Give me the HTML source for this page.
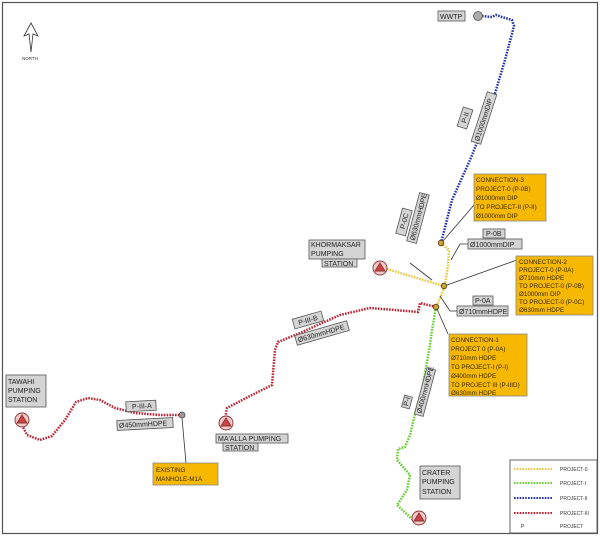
<!DOCTYPE html>
<html><head><meta charset="utf-8"><style>
html,body{margin:0;padding:0;background:#fff;}
svg{display:block;font-family:"Liberation Sans",sans-serif;}
.lb{fill:#d4d4d4;stroke:#555;stroke-width:0.8;}
.t{font-size:7px;fill:#222;}
.ob{fill:#f6b800;stroke:#888;stroke-width:0.8;}
.ot{font-size:6.3px;fill:#3a2a00;}
.ld{stroke:#333;stroke-width:0.8;fill:none;}
.nd{fill:#c9a23a;stroke:#4a3a10;stroke-width:0.8;}
</style></head><body>
<svg width="600" height="536" viewBox="0 0 600 536">
<rect x="2.5" y="2.5" width="595" height="531" fill="#fff" stroke="#555" stroke-width="1.2"/>
<!-- north arrow -->
<path d="M31 23 L24 36 L29 34 L31 52 L33 34 L38 36 Z" fill="#fff" stroke="#333" stroke-width="0.8"/>
<text x="22" y="60" font-size="4.5" fill="#333">NORTH</text>

<!-- pipelines -->
<path d="M482 16 L492 17 L496 15 L502 17 L512 20 L514 26 L505 60 L490 110 L470 160 L452 200 L441 243" fill="none" stroke="#2233aa" stroke-width="2.5" stroke-dasharray="1.6 1.2"/>
<path d="M441 243 L449 250 L448 265 L445 285 L441 296 L436 307" fill="none" stroke="#e8c840" stroke-width="2.5" stroke-dasharray="1.6 1.2"/>
<path d="M387 269 L410 276 L444 286" fill="none" stroke="#e8c840" stroke-width="2.5" stroke-dasharray="1.6 1.2"/>
<path d="M436 307 L432 330 L430 345 L422 390 L416 410 L410 435 L405 447 L398 449 L397 460 L410 475 L407 490 L397 505 L413 520" fill="none" stroke="#66cc33" stroke-width="2.5" stroke-dasharray="1.6 1.2"/>
<path d="M436 307 L420 303 L418 312 L395 310 L370 308 L340 315 L300 333 L278 342 L275 350 L272 385 L250 396 L227 408 L225 418" fill="none" stroke="#bb2233" stroke-width="2.5" stroke-dasharray="1.6 1.2"/>
<path d="M22 425 L27 435 L40 440 L52 436 L65 420 L76 402 L88 398 L100 400 L115 408 L135 413 L160 415 L182 415" fill="none" stroke="#bb2233" stroke-width="2.5" stroke-dasharray="1.6 1.2"/>

<!-- nodes -->
<circle cx="478" cy="16" r="4.5" fill="#aaa" stroke="#555" stroke-width="0.8"/>
<circle cx="441" cy="243" r="2.8" class="nd"/>
<circle cx="444" cy="286" r="2.8" class="nd"/>
<circle cx="436" cy="307" r="2.8" class="nd"/>
<circle cx="182" cy="415" r="3" fill="#999" stroke="#444" stroke-width="0.8"/>
<!-- pumping stations -->
<g stroke="#883333" stroke-width="0.9">
<circle cx="380" cy="268" r="7" fill="#f2c8c8"/><path d="M380 263 L375 271 L385 271 Z" fill="#cc4444"/>
<circle cx="22" cy="420" r="7" fill="#f2c8c8"/><path d="M22 415 L17 423 L27 423 Z" fill="#cc4444"/>
<circle cx="226" cy="423" r="7" fill="#f2c8c8"/><path d="M226 418 L221 426 L231 426 Z" fill="#cc4444"/>
<circle cx="419" cy="518" r="7" fill="#f2c8c8"/><path d="M419 513 L414 521 L424 521 Z" fill="#cc4444"/>
</g>

<!-- leaders -->
<path class="ld" d="M474 205 L443 241"/>
<path class="ld" d="M468 244 L460 244 L451 260"/>
<path class="ld" d="M517 260 L447 285"/>
<path class="ld" d="M410 263 L432 280"/>
<path class="ld" d="M457 311 L450 311 L440 296"/>
<path class="ld" d="M448 334 L437 309"/>
<path class="ld" d="M182 418 L186 463"/>

<!-- labels -->
<rect class="lb" x="438" y="11" width="27" height="10"/><text class="t" x="440" y="19">WWTP</text>
<g transform="translate(465,118) rotate(-72)"><rect class="lb" x="-10" y="-5" width="20" height="10"/><text class="t" x="-5" y="2.5">P-II</text></g>
<g transform="translate(484,118) rotate(-72)"><rect class="lb" x="-26" y="-5" width="52" height="10"/><text class="t" x="-24" y="2.5">Ø1000mmDIP</text></g>

<rect class="ob" x="474" y="174" width="72" height="47"/>
<text class="ot"><tspan x="476" y="182">CONNECTION-3</tspan><tspan x="476" y="191">PROJECT-0 (P-0B)</tspan><tspan x="476" y="200">Ø1000mm DIP</tspan><tspan x="476" y="209">TO PROJECT-II (P-II)</tspan><tspan x="476" y="218">Ø1000mm DIP</tspan></text>

<rect class="lb" x="483" y="229" width="22" height="9"/><text class="t" x="486" y="236">P-0B</text>
<rect class="lb" x="468" y="239" width="54" height="10"/><text class="t" x="470" y="247">Ø1000mmDIP</text>

<g transform="translate(404,222) rotate(-75)"><rect class="lb" x="-13" y="-5" width="26" height="10"/><text class="t" x="-7" y="2.5">P-0C</text></g>
<g transform="translate(418,218) rotate(-75)"><rect class="lb" x="-25" y="-5" width="50" height="10"/><text class="t" x="-23" y="2.5">Ø630mmHDPE</text></g>

<rect class="lb" x="309" y="240" width="56" height="19"/><rect class="lb" x="322" y="259" width="35" height="8"/>
<text class="t"><tspan x="311" y="247">KHORMAKSAR</tspan><tspan x="311" y="256">PUMPING</tspan><tspan x="324" y="266">STATION</tspan></text>

<rect class="ob" x="516" y="256" width="77" height="59"/>
<text class="ot"><tspan x="519" y="264">CONNECTION-2</tspan><tspan x="519" y="272">PROJECT-0 (P-0A)</tspan><tspan x="519" y="280">Ø710mm HDPE</tspan><tspan x="519" y="288">TO PROJECT-0 (P-0B)</tspan><tspan x="519" y="296">Ø1000mm DIP</tspan><tspan x="519" y="304">TO PROJECT-0 (P-0C)</tspan><tspan x="519" y="312">Ø630mm HDPE</tspan></text>

<rect class="lb" x="473" y="296" width="20" height="9"/><text class="t" x="475" y="303">P-0A</text>
<rect class="lb" x="457" y="306" width="51" height="10"/><text class="t" x="459" y="314">Ø710mmHDPE</text>

<rect class="ob" x="449" y="334" width="78" height="62"/>
<text class="ot"><tspan x="451" y="342">CONNECTION-1</tspan><tspan x="451" y="351">PROJECT 0 (P-0A)</tspan><tspan x="451" y="360">Ø710mm HDPE</tspan><tspan x="451" y="369">TO PROJECT-I (P-I)</tspan><tspan x="451" y="378">Ø400mm HDPE</tspan><tspan x="451" y="387">TO PROJECT III (P-IIID)</tspan><tspan x="451" y="395">Ø630mm HDPE</tspan></text>

<g transform="translate(407,402) rotate(-75)"><rect class="lb" x="-6" y="-4" width="12" height="8"/><text class="t" x="-4" y="2" font-size="5">P-I</text></g>
<g transform="translate(425,392) rotate(-75)"><rect class="lb" x="-24" y="-4.5" width="48" height="9"/><text class="t" x="-22" y="2" font-size="6">Ø400mmHDPE</text></g>

<g transform="translate(308,320) rotate(-16)"><rect class="lb" x="-15" y="-5" width="30" height="10"/><text class="t" x="-10" y="2.5">P-III-B</text></g>
<g transform="translate(322,333) rotate(-16)"><rect class="lb" x="-27" y="-5" width="54" height="10"/><text class="t" x="-25" y="2.5">Ø630mmHDPE</text></g>

<rect class="lb" x="6" y="375" width="40" height="32"/>
<text class="t"><tspan x="8" y="384">TAWAHI</tspan><tspan x="8" y="393">PUMPING</tspan><tspan x="8" y="402">STATION</tspan></text>

<g transform="translate(141,406) rotate(-3)"><rect class="lb" x="-15" y="-5" width="30" height="10"/><text class="t" x="-9" y="2.5">P-III-A</text></g>
<g transform="translate(145,424) rotate(-3)"><rect class="lb" x="-28" y="-5" width="56" height="10"/><text class="t" x="-26" y="2.5">Ø450mmHDPE</text></g>

<rect class="ob" x="153" y="463" width="65" height="22"/>
<text class="ot"><tspan x="156" y="472">EXISTING</tspan><tspan x="156" y="481">MANHOLE-M1A</tspan></text>

<rect class="lb" x="216" y="434" width="72" height="9"/><rect class="lb" x="223" y="443" width="35" height="8"/>
<text class="t"><tspan x="218" y="441">MA'ALLA PUMPING</tspan><tspan x="225" y="450">STATION</tspan></text>

<rect class="lb" x="420" y="466" width="40" height="33"/>
<text class="t"><tspan x="422" y="475">CRATER</tspan><tspan x="422" y="484">PUMPING</tspan><tspan x="422" y="494">STATION</tspan></text>

<!-- legend -->
<rect x="510" y="460" width="87" height="73" fill="#fff" stroke="#555" stroke-width="0.9"/>
<g stroke-width="2" stroke-dasharray="1.6 1.2">
<line x1="514" y1="469" x2="552" y2="469" stroke="#e8c840"/>
<line x1="514" y1="483" x2="552" y2="483" stroke="#66cc33"/>
<line x1="514" y1="498" x2="552" y2="498" stroke="#2233aa"/>
<line x1="514" y1="513" x2="552" y2="513" stroke="#bb2233"/>
</g>
<g font-size="5" fill="#333"><text x="560" y="471">PROJECT-0</text><text x="560" y="485">PROJECT-I</text><text x="560" y="500">PROJECT-II</text><text x="560" y="515">PROJECT-III</text><text x="521" y="528">P</text><text x="560" y="528">PROJECT</text></g>
</svg>
</body></html>
